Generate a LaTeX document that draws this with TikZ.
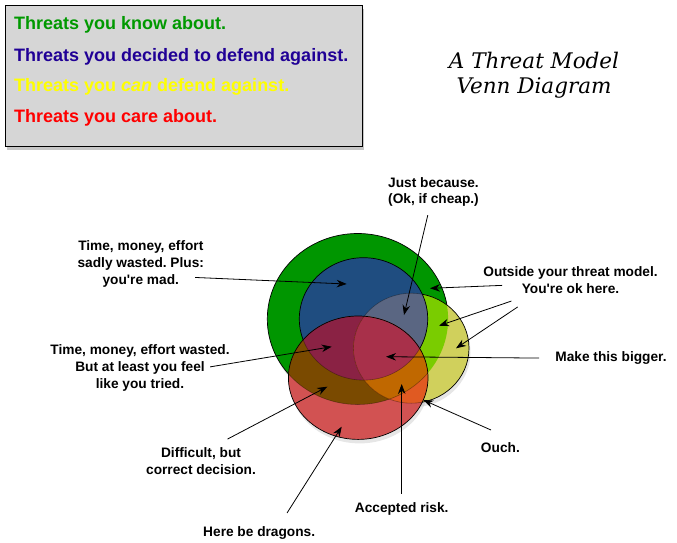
\documentclass[tikz,border=0pt]{standalone}
\usepackage{fontspec}
\setmainfont{Liberation Sans}
\newfontfamily\titlefont{DejaVu Serif}
\usetikzlibrary{arrows.meta,shadows}
\frenchspacing

\definecolor{KnowGreen}{HTML}{009600}
\definecolor{DefendBlue}{HTML}{1F4D80}
\definecolor{CanYellow}{HTML}{D0D05C}
\definecolor{CareRed}{HTML}{D25252}
\definecolor{YellowOnGreen}{HTML}{7ACC00}
\definecolor{YellowOnBlue}{HTML}{5A6682}
\definecolor{RedOnGreen}{HTML}{7A4A00}
\definecolor{RedOnBlue}{HTML}{8A2244}
\definecolor{RedOnYellow}{HTML}{E05A22}
\definecolor{RedOnLime}{HTML}{C06800}
\definecolor{RedOnSlate}{HTML}{A8304A}
\definecolor{LegendGray}{HTML}{D6D6D6}
\definecolor{LegendGreen}{HTML}{009900}
\definecolor{LegendBlue}{HTML}{200096}
\definecolor{LegendYellow}{HTML}{FFFF00}
\definecolor{LegendRed}{HTML}{FF0000}

% the four sets, in pixel coordinates of the picture
\newcommand\knowset{(357.7,319) ellipse [x radius=90.4, y radius=85.5]}
\newcommand\defendset{(363.5,318.9) ellipse [x radius=64.2, y radius=61.2]}
\newcommand\canset{(411.2,348.2) ellipse [x radius=57.8, y radius=55]}
\newcommand\careset{(358.2,377.7) ellipse [x radius=69.8, y radius=61.7]}

\begin{document}
\frenchspacing
\begin{tikzpicture}[
    x=1pt, y=-1pt,
    every node/.style={font=\fontsize{13.7}{16.8}\selectfont\bfseries, inner sep=1pt},
    note/.style={align=center},
    keyline/.style={font=\fontsize{18}{20}\selectfont\bfseries, anchor=base west, inner sep=0pt},
    arrow/.style={-{Stealth[length=10pt,width=7.5pt]}, line width=0.8pt},
    rim/.style={draw=black, line width=0.7pt},
    faintrim/.style={draw=black, line width=0.6pt, draw opacity=0.35},
    softshadow/.style={drop shadow={shadow xshift=1.5pt, shadow yshift=-4pt, opacity=0.2}}
]
  \useasboundingbox (0,0) rectangle (677,542);

  % legend
  \node[draw, line width=1.1pt, fill=LegendGray, anchor=north west,
        minimum width=357pt, minimum height=140.7pt,
        drop shadow={shadow xshift=1.5pt, shadow yshift=-3.5pt, opacity=0.45}] (legend) at (5.3,5.3) {};
  \node[keyline, text=LegendGreen] (know) at (14,29.3) {Threats you know about.};
  \node[keyline, text=LegendBlue] (decided) at (14,61) {Threats you decided to defend against.};
  \node[keyline, text=LegendYellow] (can) at (14,91.7) {Threats you \textit{can} defend against.};
  \node[keyline, text=LegendRed] (care) at (14,122.3) {Threats you care about.};

  % title
  \node[font=\titlefont\itshape\fontsize{21.5}{25.6}\selectfont, align=center] (title) at (534,75.4) {A Threat Model\\Venn Diagram};

  % the sets
  \path[softshadow] \knowset;
  \path[softshadow] \canset;
  \path[softshadow] \careset;
  \fill[KnowGreen] \knowset;
  \draw[rim] \knowset;
  \fill[CanYellow] \canset;
  \begin{scope}
    \clip \canset;
    \fill[YellowOnGreen] \knowset;
  \end{scope}
  \draw[rim] \canset;
  \fill[DefendBlue] \defendset;
  \begin{scope}
    \clip \canset;
    \fill[YellowOnBlue] \defendset;
  \end{scope}
  \begin{scope}
    \clip \defendset;
    \draw[faintrim] \canset;
  \end{scope}
  \draw[rim] \defendset;
  \fill[CareRed] \careset;
  \begin{scope}
    \clip \careset;
    \fill[RedOnGreen] \knowset;
    \fill[RedOnBlue] \defendset;
    \clip \canset;
    \fill[RedOnYellow] \canset;
    \fill[RedOnLime] \knowset;
    \fill[RedOnSlate] \defendset;
  \end{scope}
  \begin{scope}
    \clip \careset;
    \draw[faintrim] \knowset;
    \draw[faintrim] \defendset;
    \draw[faintrim] \canset;
  \end{scope}
  \draw[rim] \careset;

  % arrow tips
  \coordinate (tMad) at (346.7,284);
  \coordinate (tTried) at (331.7,346.7);
  \coordinate (tDecision) at (327.3,386.7);
  \coordinate (tDragons) at (341.7,426.7);
  \coordinate (tRisk) at (401.7,384);
  \coordinate (tOuch) at (423.3,400);
  \coordinate (tBigger) at (386,356.7);
  \coordinate (tOutGreen) at (430,288.3);
  \coordinate (tOutLime) at (439,325.7);
  \coordinate (tOutYellow) at (456,348.3);
  \coordinate (tCheap) at (404,315);

  % labels
  \node[note] (mad) at (140.8,264.2) {Time, money, effort\\sadly wasted. Plus:\\you\textquotesingle re mad.};
  \node[note] (tried) at (140,368.2) {Time, money, effort wasted.\\But at least you feel\\like you tried.};
  \node[note] (decision) at (201,460.7) {Difficult, but\\correct decision.};
  \node (dragons) at (259.2,533.2) {Here be dragons.};
  \node (risk) at (401.7,509.1) {Accepted risk.};
  \node (ouch) at (500.4,448) {Ouch.};
  \node (bigger) at (611,358.2) {Make this bigger.};
  \node[note] (outside) at (570.5,280) {Outside your threat model.\\You\textquotesingle re ok here.};
  \node[align=left, anchor=west] (cheap) at (387,191.9) {Just because.\\(Ok, if cheap.)};

  \draw[arrow, shorten <=-10pt] (mad.-12) -- (tMad);
  \draw[arrow, shorten <=-21pt] (tried.3) -- (tTried);
  \draw[arrow, shorten <=15pt] (decision.48) -- (tDecision);
  \draw[arrow, shorten <=15pt] (dragons.21) -- (tDragons);
  \draw[arrow, shorten <=8pt] (risk.north) -- (tRisk);
  \draw[arrow, shorten <=29pt] (ouch.20) -- (tOuch);
  \draw[arrow, shorten <=15pt] (bigger.west) -- (tBigger);
  \draw[arrow, shorten <=-20pt] (outside.184) -- (tOutGreen);
  \draw[arrow, shorten <=20pt] (outside.200) -- (tOutLime);
  \draw[arrow, shorten <=22pt] (outside.203) -- (tOutYellow);
  \draw[arrow, shorten <=7.5pt] (cheap.-104) -- (tCheap);
\end{tikzpicture}
\end{document}
